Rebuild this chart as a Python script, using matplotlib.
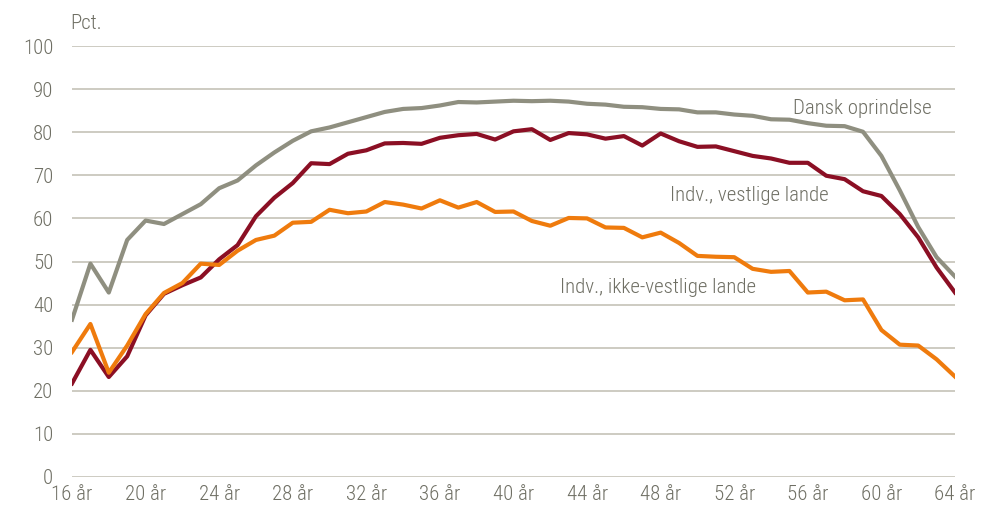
import matplotlib
matplotlib.use("Agg")
import matplotlib.pyplot as plt

ages = list(range(16, 65))
dansk = [36.5, 49.5, 42.8, 55.0, 59.5, 58.7, 61.0, 63.3, 67.0, 68.8,
         72.3, 75.3, 78.0, 80.2, 81.1, 82.3, 83.5, 84.7, 85.4, 85.6,
         86.2, 87.0, 86.9, 87.1, 87.3, 87.2, 87.3, 87.1, 86.6, 86.4,
         85.9, 85.8, 85.4, 85.3, 84.6, 84.6, 84.1, 83.8, 83.0, 82.9,
         82.1, 81.5, 81.4, 80.1, 74.5, 66.5, 58.0, 51.0, 46.5]
vestlige = [21.7, 29.5, 23.2, 28.0, 37.5, 42.5, 44.5, 46.3, 50.5, 53.8,
            60.5, 64.8, 68.2, 72.8, 72.6, 75.0, 75.8, 77.4, 77.5, 77.3,
            78.7, 79.3, 79.6, 78.3, 80.2, 80.7, 78.2, 79.8, 79.5, 78.5,
            79.1, 76.9, 79.7, 77.9, 76.6, 76.7, 75.6, 74.5, 73.9, 72.9,
            72.9, 69.9, 69.1, 66.3, 65.2, 61.0, 55.6, 48.6, 42.8]
ikke_vestlige = [29.0, 35.5, 24.2, 30.5, 37.8, 42.7, 45.0, 49.5, 49.2, 52.5,
                 55.0, 56.0, 59.0, 59.2, 62.0, 61.2, 61.6, 63.8, 63.2, 62.3,
                 64.2, 62.5, 63.8, 61.5, 61.6, 59.4, 58.3, 60.1, 60.0, 57.9,
                 57.8, 55.6, 56.7, 54.3, 51.3, 51.1, 51.0, 48.3, 47.6, 47.8,
                 42.8, 43.0, 41.0, 41.2, 34.1, 30.7, 30.5, 27.3, 23.3]
series_names = ["Dansk oprindelse", "Indv., vestlige lande", "Indv., ikke-vestlige lande"]
xtick_ages = list(range(16, 65, 4))
xtick_labels = [f"{a} år" for a in xtick_ages]
yticks = list(range(0, 101, 10))

plt.rcParams["font.family"] = ["Roboto Condensed", "DejaVu Sans"]
plt.rcParams["font.weight"] = 300

text_col = "#6f6f64"
grid_col = "#c9c7bd"
fs = 15

fig = plt.figure(figsize=(9.91, 5.22), dpi=100)
ax = fig.add_axes([72/991, 45/522, 883/991, 431/522])

for y in yticks:
    ax.axhline(y, color=grid_col, lw=1.3, zorder=1)

ax.plot(ages, dansk, color="#8f8f80", lw=3.0, zorder=3)
ax.plot(ages, vestlige, color="#8b0f24", lw=3.0, zorder=4)
ax.plot(ages, ikke_vestlige, color="#ef7b0d", lw=3.0, zorder=5)

ax.set_xlim(16, 64)
ax.set_ylim(0, 100)
for s in ax.spines.values():
    s.set_visible(False)
ax.set_yticks(yticks)
ax.set_yticklabels([str(y) for y in yticks], fontsize=fs, color=text_col)
ax.set_xticks(xtick_ages)
ax.set_xticklabels(xtick_labels, fontsize=fs, color=text_col)
ax.tick_params(length=0)
ax.tick_params(axis="y", pad=13.5)
ax.tick_params(axis="x", pad=6)

ax.text(55.2, 85.6, series_names[0], fontsize=fs, color=text_col, ha="left", va="center")
ax.text(48.5, 65.2, series_names[1], fontsize=fs, color=text_col, ha="left", va="center")
ax.text(42.55, 43.9, series_names[2], fontsize=fs, color=text_col, ha="left", va="center")

fig.text(70/991, 1 - 24/522, "Pct.", fontsize=fs, color=text_col, ha="left", va="center")

fig.savefig("out.png", dpi=100)
